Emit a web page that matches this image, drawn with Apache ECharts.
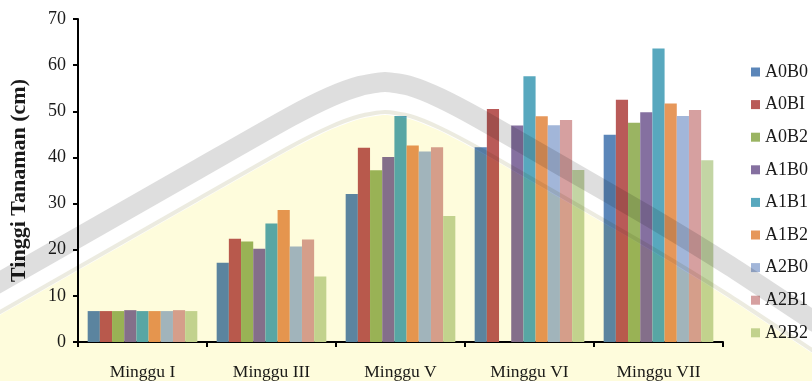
<!DOCTYPE html>
<html>
<head>
<meta charset="utf-8">
<script src="https://cdn.jsdelivr.net/npm/echarts@6/dist/echarts.min.js"></script>
<style>
  html, body { margin: 0; padding: 0; background: #ffffff; }
  #chart { width: 812px; height: 381px; }
</style>
</head>
<body>
<div id="chart"></div>
<script>
// Plant height (cm) per treatment, measured in weeks I, III, V, VI and VII
var categories = ['Minggu I', 'Minggu III', 'Minggu V', 'Minggu VI', 'Minggu VII'];
var seriesNames = ['A0B0', 'A0BI', 'A0B2', 'A1B0', 'A1B1', 'A1B2', 'A2B0', 'A2B1', 'A2B2'];

var A0B0 = [6.7, 17.2, 32.1, 42.2, 44.9];
var A0BI = [6.7, 22.4, 42.1, 50.5, 52.5];
var A0B2 = [6.7, 21.8, 37.2, null, 47.5];
var A1B0 = [6.9, 20.2, 40.1, 46.9, 49.8];
var A1B1 = [6.7, 25.7, 49.0, 57.6, 63.6];
var A1B2 = [6.7, 28.6, 42.6, 48.9, 51.7];
var A2B0 = [6.7, 20.7, 41.3, 47.0, 49.0];
var A2B1 = [6.9, 22.2, 42.2, 48.1, 50.3];
var A2B2 = [6.7, 14.2, 27.3, 37.3, 39.4];

var yTicks = [0, 10, 20, 30, 40, 50, 60, 70];

var values = [A0B0, A0BI, A0B2, A1B0, A1B1, A1B2, A2B0, A2B1, A2B2];
var colors = ['#5b86b9', '#b95a58', '#9ab462', '#8570a0', '#58a8be',
              '#e6975a', '#a2b6d9', '#d6a0a0', '#c3d5a4'];

var serif = '"Liberation Serif", "DejaVu Serif", serif';

var chart = echarts.init(document.getElementById('chart'), null, { renderer: 'canvas' });

var series = seriesNames.map(function (name, i) {
  return {
    name: name,
    type: 'bar',
    data: values[i],
    barGap: '0%',
    barCategoryGap: '15%',
    itemStyle: { color: colors[i] },
    emphasis: { disabled: true }
  };
});

// pale page backdrop: a tinted arch region with a grey band along its rim
var archBand = [[-20, 293], [0, 282], [100, 225], [200, 168], [290, 117], [330, 97],
                [360, 86], [385, 82], [410, 86], [440, 98], [480, 119],
                [560, 165], [650, 217], [730, 266], [812, 320], [830, 331]];
function shifted(pts, dy) {
  return pts.map(function (p) { return [p[0], p[1] + dy]; });
}
var innerLine = shifted(archBand, 30);
var tinted = shifted(archBand, 33).concat([[830, 400], [-20, 400]]);

chart.setOption({
  backgroundColor: '#ffffff',
  animation: false,
  textStyle: { fontFamily: serif },
  grid: { left: 77, right: 89, top: 19, bottom: 37, containLabel: false },
  legend: {
    orient: 'vertical',
    left: 751,
    top: 63,
    padding: 0,
    itemWidth: 9,
    itemHeight: 9,
    itemGap: 14.6,
    icon: 'rect',
    data: seriesNames,
    textStyle: { fontFamily: serif, fontSize: 18, color: '#1a1a1a', lineHeight: 18 },
    selectedMode: false
  },
  xAxis: {
    type: 'category',
    data: categories,
    boundaryGap: true,
    axisLine: { lineStyle: { color: '#000', width: 2 } },
    axisTick: { show: true, length: 5, inside: false, lineStyle: { color: '#000', width: 2 } },
    axisLabel: { fontFamily: serif, fontSize: 17.5, color: '#1a1a1a', margin: 21 },
    splitLine: { show: false }
  },
  yAxis: {
    type: 'value',
    min: yTicks[0],
    max: yTicks[yTicks.length - 1],
    interval: yTicks[1] - yTicks[0],
    name: 'Tinggi Tanaman (cm)',
    nameLocation: 'middle',
    nameRotate: 90,
    nameGap: 48,
    nameTextStyle: { fontFamily: serif, fontSize: 22, fontWeight: 'bold', color: '#1a1a1a' },
    axisLine: { show: true, lineStyle: { color: '#000', width: 2 } },
    axisTick: { show: true, length: 5, inside: false, lineStyle: { color: '#000', width: 2 } },
    axisLabel: { fontFamily: serif, fontSize: 18, color: '#1a1a1a', margin: 12 },
    splitLine: { show: false }
  },
  graphic: [
    {
      type: 'polygon',
      silent: true,
      z: 100,
      shape: { points: tinted, smooth: 0.2 },
      style: { fill: '#fefcdc', blend: 'multiply' }
    },
    {
      type: 'polyline',
      silent: true,
      z: 101,
      shape: { points: innerLine, smooth: 0.2 },
      style: { stroke: '#ecebe0', lineWidth: 4, fill: null, blend: 'multiply' }
    },
    {
      type: 'polyline',
      silent: true,
      z: 101,
      shape: { points: archBand, smooth: 0.2 },
      style: { stroke: '#dedede', lineWidth: 20, fill: null, blend: 'multiply' }
    }
  ],
  series: series
});
</script>
</body>
</html>
